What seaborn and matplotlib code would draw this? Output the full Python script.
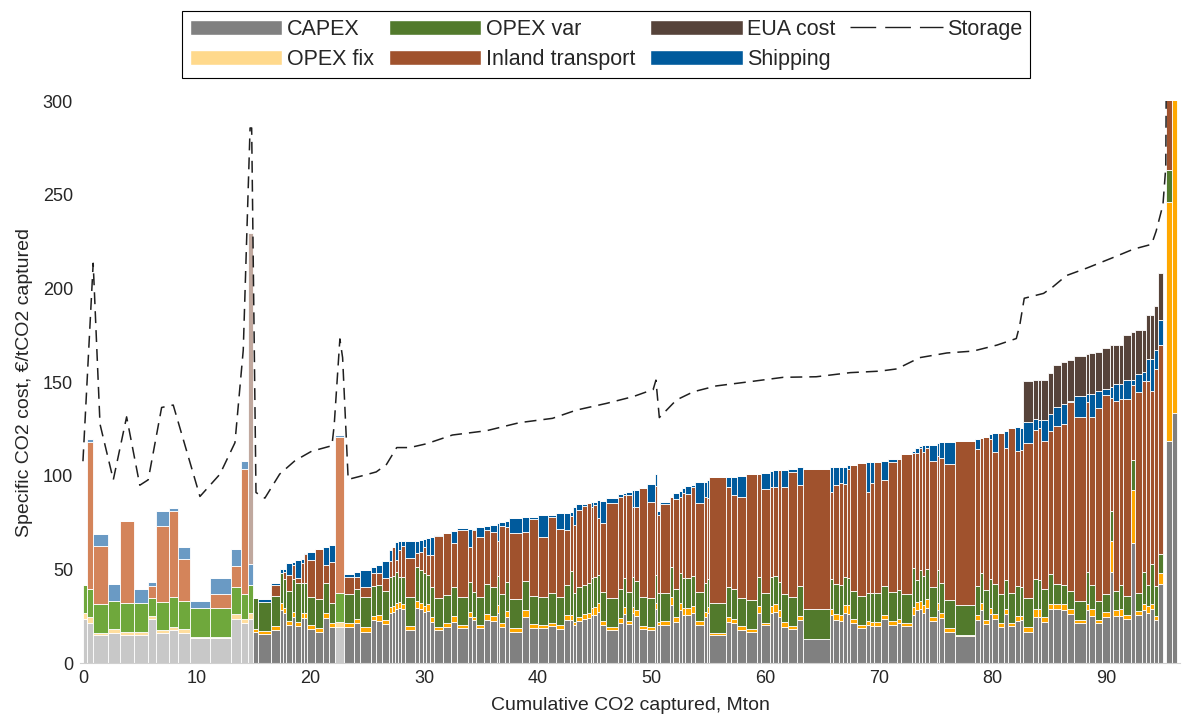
import numpy as np
import pandas as pd
import matplotlib
matplotlib.use("Agg")
import matplotlib.pyplot as plt
from matplotlib.patches import Patch
from matplotlib.lines import Line2D
import seaborn as sns

# Cumulative CO2 captured at the right edge of each plant, Mton (plants sorted along the curve)
mt_end = [
    0.33, 0.92, 2.20, 3.28, 4.45, 5.72, 6.45, 7.58, 8.32, 9.38,
    11.14, 13.03, 13.86, 14.50, 15.00, 15.42, 16.52, 17.30, 17.60, 17.90,
    18.35, 18.65, 19.15, 19.40, 19.75, 20.40, 21.15, 21.60, 22.20, 22.95,
    23.80, 24.40, 25.30, 25.80, 26.30, 26.90, 27.15, 27.45, 27.70, 28.00,
    28.30, 29.20, 29.60, 29.90, 30.20, 30.50, 30.85, 31.65, 32.40, 32.90,
    33.90, 34.20, 34.60, 35.30, 35.80, 36.40, 36.60, 37.10, 37.50, 38.60,
    39.20, 40.05, 40.95, 41.60, 42.35, 42.80, 43.10, 43.40, 43.90, 44.30,
    44.70, 44.90, 45.20, 45.50, 46.00, 47.10, 47.50, 47.80, 48.30, 48.50,
    48.95, 49.60, 50.35, 50.50, 50.80, 51.60, 51.90, 52.40, 52.70, 53.00,
    53.50, 53.80, 54.60, 54.90, 55.10, 56.60, 57.00, 57.50, 58.35, 59.30,
    59.60, 60.40, 60.70, 61.10, 61.40, 62.00, 62.80, 63.30, 65.70, 66.00,
    66.50, 66.90, 67.20, 67.50, 68.05, 68.90, 69.20, 69.60, 70.20, 70.80,
    71.60, 71.95, 72.90, 73.20, 73.50, 73.80, 74.10, 74.40, 75.10, 75.30,
    75.75, 76.70, 78.45, 78.95, 79.20, 79.70, 80.00, 80.50, 81.00, 81.40,
    82.00, 82.40, 82.70, 83.60, 84.00, 84.30, 84.85, 85.35, 86.00, 86.60,
    87.20, 88.20, 88.50, 89.00, 89.65, 90.30, 90.60, 91.10, 91.50, 92.20,
    92.55, 93.20, 93.50, 93.90, 94.25, 94.60, 95.00, 95.30, 95.80, 96.25,
]

# Cumulative specific cost at the top of each cost layer, EUR/tCO2
top_capex = [
    23.7, 21.3, 14.8, 15.8, 15.2, 15.2, 23.3, 15.8, 17.8, 16.2,
    13.2, 13.2, 23.7, 21.4, 23.7, 16.8, 15.4, 17.8, 28.3, 26.5,
    20.3, 24.7, 19.8, 23.8, 23.8, 18.0, 16.7, 23.8, 19.4, 19.4,
    19.4, 21.2, 16.7, 23.0, 22.6, 20.8, 26.5, 27.4, 28.6, 29.2,
    28.6, 17.6, 29.2, 29.0, 27.4, 27.9, 22.1, 17.6, 19.0, 22.1,
    18.5, 24.7, 23.0, 18.5, 23.0, 22.6, 26.5, 19.4, 24.7, 16.7,
    24.7, 18.5, 18.5, 19.8, 17.9, 23.0, 23.0, 20.3, 22.6, 23.3,
    23.8, 25.6, 25.6, 27.4, 20.3, 17.6, 21.5, 26.2, 20.8, 26.5,
    25.1, 18.0, 17.6, 28.6, 20.3, 20.3, 31.0, 22.1, 28.3, 25.6,
    25.6, 26.5, 20.3, 24.4, 26.5, 14.9, 22.1, 21.2, 17.6, 16.7,
    26.9, 20.3, 26.9, 27.4, 24.4, 19.4, 17.9, 22.9, 12.6, 25.6,
    23.1, 22.6, 26.5, 26.2, 21.2, 18.5, 20.3, 19.8, 19.8, 23.3,
    20.3, 21.2, 19.8, 25.6, 28.3, 28.6, 26.5, 29.2, 22.6, 28.3,
    24.2, 16.7, 14.4, 22.8, 28.1, 21.0, 26.0, 23.7, 19.0, 26.0,
    19.6, 22.4, 22.7, 16.8, 24.7, 24.7, 21.8, 28.7, 28.7, 28.1,
    26.1, 21.2, 28.1, 25.1, 21.2, 24.7, 48.8, 25.3, 25.3, 23.7,
    64.3, 25.7, 28.3, 26.7, 28.7, 22.7, 42.0, 0.0, 118.7, 133.5,
]
top_opex_fix = [
    26.7, 24.3, 16.2, 18.4, 16.4, 16.4, 25.0, 17.8, 19.4, 18.2,
    14.0, 14.0, 26.3, 23.7, 26.7, 18.4, 17.2, 19.8, 31.9, 29.2,
    22.6, 27.4, 22.1, 26.9, 26.9, 20.3, 18.5, 26.5, 21.5, 22.1,
    21.2, 23.5, 19.0, 25.1, 25.6, 23.0, 29.7, 30.5, 32.2, 32.5,
    31.5, 19.8, 33.3, 32.0, 30.4, 31.5, 24.4, 19.4, 21.2, 25.1,
    20.3, 27.4, 24.7, 20.3, 26.2, 25.1, 31.0, 21.5, 27.9, 18.5,
    28.3, 20.8, 20.3, 21.5, 20.3, 25.6, 25.6, 22.1, 24.7, 26.2,
    26.9, 29.2, 29.7, 31.9, 22.6, 19.4, 23.8, 30.1, 22.6, 30.0,
    28.3, 19.8, 19.0, 32.2, 22.1, 22.6, 35.4, 24.4, 32.2, 29.2,
    29.2, 30.4, 22.6, 27.4, 30.0, 15.8, 24.7, 23.7, 19.8, 18.0,
    30.4, 21.5, 30.4, 31.5, 28.3, 22.1, 19.8, 25.1, 12.9, 28.6,
    26.0, 25.6, 31.0, 31.0, 23.7, 20.3, 22.6, 22.1, 22.1, 25.6,
    22.6, 23.3, 21.5, 30.1, 32.7, 33.3, 30.9, 34.0, 24.7, 32.0,
    26.7, 18.5, 15.0, 25.4, 32.0, 23.1, 29.5, 26.3, 21.2, 29.0,
    21.4, 24.9, 25.0, 19.2, 28.7, 29.0, 24.7, 31.6, 31.6, 31.6,
    28.7, 22.7, 31.6, 28.7, 22.7, 27.0, 65.3, 28.3, 28.7, 25.7,
    92.3, 27.7, 31.6, 30.6, 31.6, 25.1, 48.0, 0.0, 246.2, 310.0,
]
top_opex_var = [
    41.5, 39.5, 31.6, 33.0, 32.2, 32.2, 34.6, 32.6, 35.0, 33.0,
    29.2, 29.2, 40.5, 36.6, 41.5, 34.6, 32.6, 35.6, 48.2, 44.7,
    38.6, 44.7, 42.5, 42.5, 42.9, 35.4, 34.0, 42.5, 31.9, 37.2,
    36.8, 39.3, 35.0, 41.1, 41.6, 38.6, 45.7, 46.4, 48.8, 45.7,
    45.7, 35.4, 51.0, 49.5, 48.2, 46.9, 40.4, 34.5, 36.3, 40.4,
    35.4, 43.4, 38.0, 35.4, 42.2, 40.7, 46.4, 36.8, 43.4, 34.0,
    43.9, 35.9, 35.4, 37.2, 35.4, 41.6, 48.9, 37.2, 40.4, 41.6,
    42.5, 45.2, 45.7, 47.0, 38.0, 34.5, 39.3, 45.2, 38.0, 46.0,
    43.9, 35.4, 34.5, 46.8, 37.2, 37.5, 51.0, 39.3, 48.2, 45.2,
    45.2, 46.4, 38.0, 42.9, 45.0, 31.9, 40.4, 39.3, 34.9, 33.6,
    46.0, 37.5, 46.1, 46.4, 43.4, 36.8, 35.4, 41.1, 28.6, 44.7,
    42.2, 41.6, 46.1, 45.2, 38.6, 35.8, 37.5, 37.2, 37.5, 41.1,
    38.1, 39.0, 36.8, 50.5, 44.3, 49.6, 46.3, 50.0, 40.7, 49.8,
    42.9, 33.6, 31.0, 41.1, 48.0, 39.1, 45.0, 42.2, 36.8, 44.5,
    37.2, 41.1, 40.5, 34.6, 44.9, 44.5, 39.6, 47.5, 42.1, 41.5,
    38.2, 33.0, 48.5, 41.5, 33.0, 36.6, 81.0, 38.2, 41.5, 36.0,
    108.2, 37.6, 48.5, 41.5, 53.0, 40.9, 58.0, 0.0, 263.0, 310.0,
]
top_inland = [
    41.5, 118.0, 62.6, 33.0, 75.7, 32.2, 40.9, 73.1, 81.4, 55.3,
    29.2, 36.6, 52.0, 103.4, 41.5, 34.6, 32.6, 41.5, 48.2, 48.8,
    47.0, 52.3, 45.2, 53.2, 58.2, 55.0, 60.7, 52.3, 54.1, 120.8,
    45.7, 46.1, 40.4, 47.9, 48.2, 45.2, 54.6, 61.7, 55.0, 60.3,
    62.5, 55.9, 58.7, 59.5, 62.0, 57.7, 57.7, 67.8, 69.2, 63.9,
    71.0, 61.7, 71.0, 67.4, 71.0, 69.9, 65.0, 73.1, 72.4, 69.2,
    70.1, 76.9, 67.4, 78.1, 71.4, 71.0, 78.4, 73.7, 81.7, 83.8,
    85.2, 83.3, 84.2, 77.2, 74.9, 85.6, 88.8, 89.7, 89.7, 83.5,
    83.5, 93.2, 86.1, 94.5, 79.0, 84.9, 88.4, 87.4, 88.8, 90.6,
    90.2, 94.0, 85.2, 88.8, 88.0, 99.5, 93.8, 89.7, 88.8, 100.9,
    100.9, 92.7, 94.0, 93.8, 103.0, 93.8, 102.1, 95.2, 103.7, 91.5,
    95.0, 95.9, 95.5, 103.7, 105.7, 106.9, 91.5, 96.3, 107.5, 97.7,
    107.5, 108.7, 111.6, 111.9, 111.9, 114.6, 112.8, 114.6, 108.0, 110.5,
    109.3, 106.2, 118.7, 114.0, 120.0, 120.8, 119.4, 112.8, 123.0, 115.0,
    125.3, 113.0, 113.7, 117.7, 124.6, 125.2, 118.7, 124.0, 126.6, 127.6,
    139.4, 131.1, 139.4, 131.1, 135.9, 143.0, 141.4, 139.8, 141.0, 141.0,
    148.3, 144.4, 150.3, 150.3, 145.0, 157.2, 170.0, 0.0, 310.0, 310.0,
]
top_shipping = [
    41.5, 119.6, 69.0, 42.0, 75.7, 39.3, 43.3, 81.4, 82.6, 61.7,
    33.0, 45.5, 60.9, 107.8, 52.8, 34.6, 34.2, 42.9, 50.0, 50.0,
    53.2, 54.0, 55.0, 55.3, 58.9, 59.4, 60.7, 62.1, 63.0, 121.5,
    47.5, 48.4, 49.6, 51.1, 52.3, 54.6, 60.3, 62.1, 64.8, 65.3,
    65.3, 65.3, 65.3, 65.7, 66.0, 66.5, 67.4, 68.5, 69.2, 70.6,
    71.9, 71.7, 71.7, 72.8, 73.1, 73.7, 74.9, 75.4, 76.0, 77.2,
    77.8, 77.8, 79.0, 79.0, 80.2, 80.2, 80.4, 83.1, 84.9, 84.9,
    85.2, 86.1, 86.1, 87.0, 86.7, 87.9, 90.2, 90.9, 91.5, 92.3,
    92.3, 93.2, 95.4, 100.9, 81.1, 86.1, 88.8, 90.6, 91.8, 93.2,
    94.5, 95.0, 96.8, 96.8, 97.5, 99.5, 99.1, 99.1, 100.0, 100.9,
    100.9, 101.6, 102.7, 103.0, 103.0, 103.0, 103.4, 104.4, 103.7, 104.4,
    104.8, 104.8, 104.8, 105.5, 105.7, 106.9, 107.5, 107.5, 107.5, 108.0,
    108.7, 108.7, 111.6, 113.3, 114.6, 115.8, 116.4, 116.4, 116.4, 117.4,
    118.1, 118.1, 118.7, 119.4, 120.0, 120.8, 122.3, 123.0, 123.0, 124.0,
    125.3, 126.2, 125.6, 128.5, 130.0, 129.6, 129.5, 133.1, 136.5, 138.4,
    139.8, 142.4, 143.4, 143.8, 145.0, 146.3, 147.3, 148.9, 148.9, 150.9,
    151.3, 154.2, 155.2, 162.2, 162.2, 167.1, 183.0, 0.0, 310.0, 310.0,
]
top_eua = [
    41.5, 119.6, 69.0, 42.0, 75.7, 39.3, 43.3, 81.4, 82.6, 61.7,
    33.0, 45.5, 60.9, 107.8, 229.8, 34.6, 34.2, 42.9, 50.0, 50.0,
    53.2, 54.0, 55.0, 55.3, 58.9, 59.4, 60.7, 62.1, 63.0, 121.5,
    47.5, 48.4, 49.6, 51.1, 52.3, 54.6, 60.3, 62.1, 64.8, 65.3,
    65.3, 65.3, 65.3, 65.7, 66.0, 66.5, 67.4, 68.5, 69.2, 70.6,
    71.9, 71.7, 71.7, 72.8, 73.1, 73.7, 74.9, 75.4, 76.0, 77.2,
    77.8, 77.8, 79.0, 79.0, 80.2, 80.2, 80.4, 83.1, 84.9, 84.9,
    85.2, 86.1, 86.1, 87.0, 86.7, 87.9, 90.2, 90.9, 91.5, 92.3,
    92.3, 93.2, 95.4, 100.9, 81.1, 86.1, 88.8, 90.6, 91.8, 93.2,
    94.5, 95.0, 96.8, 96.8, 97.5, 99.5, 99.1, 99.1, 100.0, 100.9,
    100.9, 101.6, 102.7, 103.0, 103.0, 103.0, 103.4, 104.4, 103.7, 104.4,
    104.8, 104.8, 104.8, 105.5, 105.7, 106.9, 107.5, 107.5, 107.5, 108.0,
    108.7, 108.7, 111.6, 113.3, 114.6, 115.8, 116.4, 116.4, 116.4, 117.4,
    118.1, 118.1, 118.7, 119.4, 120.0, 120.8, 122.3, 123.0, 123.0, 124.0,
    125.3, 126.2, 125.6, 150.3, 150.9, 150.9, 151.3, 154.8, 159.2, 160.8,
    161.6, 164.1, 165.0, 165.5, 166.1, 168.1, 169.5, 170.0, 170.0, 175.0,
    176.6, 178.0, 178.0, 185.9, 186.0, 190.8, 208.0, 0.0, 310.0, 310.0,
]

# Plants drawn in pale tones (early group and the isolated plant at ~22.5 Mton)
pale_plants = list(range(15)) + [29]

# Storage cost curve, EUR/tCO2 against cumulative capture
storage_mt = [
    0.0, 0.9, 1.5, 2.67, 3.84, 5.0, 5.74, 6.92, 7.94, 10.29,
    12.05, 13.37, 14.1, 14.7, 14.84, 15.22, 16.0, 17.3, 18.65, 20.1,
    21.9, 22.1, 22.6, 22.84, 23.33, 24.6, 25.8, 26.7, 27.6, 28.76,
    30.2, 32.5, 35.5, 38.4, 41.3, 43.4, 46.06, 48.4, 50.16, 50.4,
    50.7, 52.2, 53.7, 55.7, 58.7, 61.6, 64.5, 67.5, 70.1, 71.6,
    73.6, 76.0, 78.3, 80.4, 82.1, 82.4, 82.8, 84.5, 85.3, 86.5,
    88.3, 90.6, 92.4, 94.0, 94.4, 95.0, 95.25, 95.3,
]
storage_cost = [
    107.7, 213.4, 127.5, 97.8, 131.4, 94.9, 97.8, 136.4, 137.7, 88.9,
    100.8, 117.6, 167.0, 285.6, 285.6, 91.0, 88.0, 100.8, 108.0, 113.0,
    116.0, 127.0, 173.0, 163.0, 98.0, 100.0, 102.0, 106.0, 115.0, 115.0,
    117.0, 121.7, 124.0, 128.3, 130.6, 135.0, 138.6, 142.2, 146.0, 151.0,
    131.0, 140.4, 144.8, 147.9, 150.2, 152.5, 152.8, 155.0, 155.8, 157.0,
    163.0, 165.5, 166.5, 169.7, 173.2, 180.2, 194.7, 197.3, 200.7, 206.8,
    210.8, 216.4, 220.9, 223.5, 230.5, 244.6, 264.8, 320.0,
]

layer_names = ["CAPEX", "OPEX fix", "OPEX var", "Inland transport", "Shipping", "EUA cost"]
layer_tops = [top_capex, top_opex_fix, top_opex_var, top_inland, top_shipping, top_eua]
strong_colors = {
    "CAPEX": "#808080", "OPEX fix": "#FFA800", "OPEX var": "#527A2C",
    "Inland transport": "#A0522D", "Shipping": "#005A9C", "EUA cost": "#56433A",
}
pale_colors = {
    "CAPEX": "#C8C8C8", "OPEX fix": "#FFDE9E", "OPEX var": "#6FA83C",
    "Inland transport": "#D4845A", "Shipping": "#6A9AC4", "EUA cost": "#C0A89E",
}

sns.set_theme(style="white")
plt.rcParams["font.family"] = ["Liberation Sans", "DejaVu Sans"]

fig = plt.figure(figsize=(11.84, 7.18), dpi=100)
ax = fig.add_axes([80 / 1184, 1 - 663 / 718, 1100 / 1184, 562 / 718])

ends = np.asarray(mt_end)
starts = np.concatenate([[0.0], ends[:-1]])
widths = ends - starts
n = len(ends)
pale = np.zeros(n, dtype=bool)
pale[pale_plants] = True

bottom = np.zeros(n)
for name, top in zip(layer_names, layer_tops):
    top = np.asarray(top, dtype=float)
    height = np.clip(top - bottom, 0, None)
    colors = np.where(pale, pale_colors[name], strong_colors[name])
    ax.bar(starts, height, width=widths, bottom=bottom, align="edge",
           color=colors, edgecolor="white", linewidth=0.6)
    bottom = np.maximum(top, bottom)

storage_df = pd.DataFrame({"mt": storage_mt, "cost": storage_cost})
sns.lineplot(data=storage_df, x="mt", y="cost", ax=ax, color="#1f1f1f",
             linewidth=1.1, estimator=None, sort=False)
ax.lines[-1].set_dashes([7.8, 4.6])

ax.set_xlim(-0.26, 96.5)
ax.set_ylim(0, 300)
ax.set_xticks(np.arange(0, 91, 10))
ax.set_yticks(np.arange(0, 301, 50))
ax.tick_params(direction="in", length=4, width=0.7, colors="#262626",
               labelsize=13, pad=5)
ax.set_xlabel("Cumulative CO2 captured, Mton", fontsize=14, color="#262626", labelpad=7)
ax.set_ylabel("Specific CO2 cost, €/tCO2 captured", fontsize=14, color="#262626", labelpad=7)
for side in ["top", "right", "left"]:
    ax.spines[side].set_visible(False)
ax.spines["bottom"].set_color("#d0d0d0")
ax.spines["bottom"].set_linewidth(0.8)

handles = [
    Patch(facecolor=strong_colors["CAPEX"], label="CAPEX"),
    Patch(facecolor="#FFD98C", label="OPEX fix"),
    Patch(facecolor=strong_colors["OPEX var"], label="OPEX var"),
    Patch(facecolor=strong_colors["Inland transport"], label="Inland transport"),
    Patch(facecolor=strong_colors["EUA cost"], label="EUA cost"),
    Patch(facecolor=strong_colors["Shipping"], label="Shipping"),
    Line2D([], [], color="#1f1f1f", linewidth=1.0, dashes=(18.5, 6.5), label="Storage"),
]
leg = fig.legend(handles=handles, ncol=4, loc="upper center",
                 bbox_to_anchor=(0.512, 0.984), bbox_transform=fig.transFigure,
                 fontsize=15.5, frameon=True, fancybox=False, framealpha=1,
                 edgecolor="black", handlelength=4.3, handleheight=0.7,
                 handletextpad=0.2, columnspacing=0.7, labelspacing=0.43,
                 borderpad=0.35, borderaxespad=0)
leg.get_frame().set_linewidth(0.8)

fig.savefig("out.png", dpi=100)
